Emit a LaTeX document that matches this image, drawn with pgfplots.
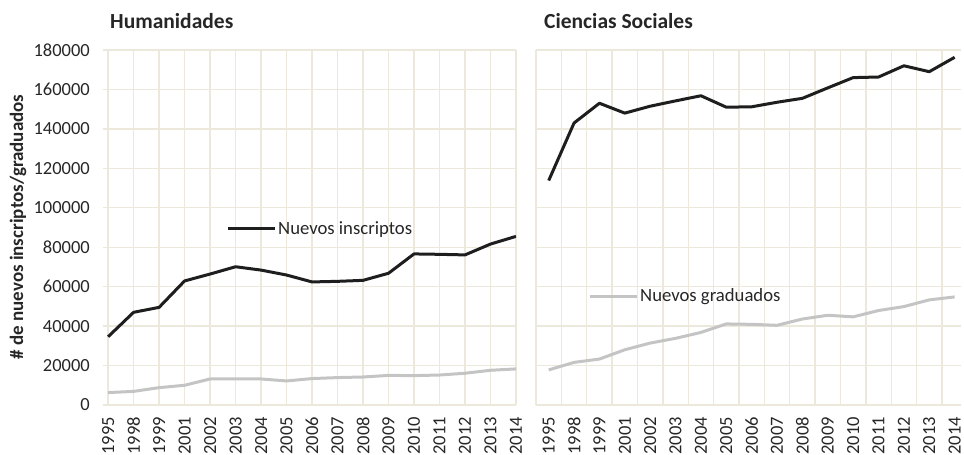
\documentclass[border=0pt]{standalone}
\usepackage{fontspec}
\setmainfont{Carlito}
\usepackage{pgfplots}
\pgfplotsset{compat=1.18}
\definecolor{gridc}{RGB}{236,232,220}
\definecolor{ins}{RGB}{30,30,30}
\definecolor{gra}{RGB}{196,196,196}
\definecolor{txt}{RGB}{38,38,38}
\begin{document}
\begin{tikzpicture}
\path[use as bounding box] (0pt,0pt) rectangle (964pt,455pt);
\pgfplotsset{
 panel/.style={
  scale only axis, height=355pt, ymin=0, ymax=180000,
  ytick={0,20000,40000,60000,80000,100000,120000,140000,160000,180000},
  axis line style={draw=none},
  major tick length=0pt, minor tick length=0pt,
  ymajorgrids,
  grid style={gridc, line width=1.4pt},
  minor grid style={gridc, line width=1.4pt},
  xtick={0,...,16},
  xticklabels={1995,1998,1999,2001,2002,2003,2004,2005,2006,2007,2008,2009,2010,2011,2012,2013,2014},
  xticklabel style={rotate=90, anchor=east, inner sep=0pt, font=\fontsize{18.5}{20}\selectfont, text=txt},
  xticklabel shift=12pt,
  scaled y ticks=false,
  yticklabel style={anchor=east, inner sep=0pt, font=\fontsize{18.5}{20}\selectfont, text=txt,
    /pgf/number format/.cd, fixed, 1000 sep={}, assume math mode=true},
  yticklabel shift=13pt,
  legend style={draw=none, fill=none, inner sep=0pt, font=\fontsize{18.7}{20}\selectfont, text=txt,
    nodes={inner sep=1.5pt}, anchor=west},
  legend image code/.code={\draw[##1] (0pt,0pt) -- (47pt,0pt);},
  every axis plot/.append style={line width=3pt, line join=round, mark=none},
 }}
\begin{axis}[panel, at={(103pt,50pt)}, anchor=south west, width=413pt,
  xmin=-0.2, xmax=16, xmajorgrids,
  legend style={at={(0.299,0.4958)}}]
\addplot[ins] coordinates {(0,34600) (1,47000) (2,49500) (3,62900) (4,66400) (5,70100) (6,68400) (7,65900) (8,62400) (9,62700) (10,63200) (11,66800) (12,76600) (13,76400) (14,76100) (15,81600) (16,85500)};
\addlegendentry{Nuevos inscriptos}
\addplot[gra, forget plot] coordinates {(0,6300) (1,6900) (2,8800) (3,10000) (4,13200) (5,13200) (6,13200) (7,12200) (8,13400) (9,13900) (10,14200) (11,15000) (12,14900) (13,15200) (14,16100) (15,17600) (16,18300)};
\end{axis}
\begin{axis}[panel, at={(536pt,50pt)}, anchor=south west, width=425pt,
  xmin=-0.5, xmax=16.25, yticklabels={},
  minor xtick={-0.5,0.5,...,16.5}, xminorgrids,
  legend style={at={(0.1235,0.307)}}]
\addplot[ins, forget plot] coordinates {(0,113800) (1,143000) (2,153000) (3,148000) (4,151500) (5,154200) (6,156800) (7,151000) (8,151200) (9,153500) (10,155500) (11,160800) (12,166000) (13,166300) (14,172000) (15,169000) (16,176300)};
\addplot[gra] coordinates {(0,17800) (1,21600) (2,23300) (3,28000) (4,31400) (5,33800) (6,36800) (7,41100) (8,40900) (9,40400) (10,43600) (11,45500) (12,44700) (13,47900) (14,49900) (15,53300) (16,54800)};
\addlegendentry{Nuevos graduados}
\end{axis}
\node[anchor=base west, inner sep=0pt, font=\bfseries\fontsize{21.5}{24}\selectfont, text=txt] at (110pt,426pt) {Humanidades};
\node[anchor=base west, inner sep=0pt, font=\bfseries\fontsize{21.5}{24}\selectfont, text=txt] at (544pt,426pt) {Ciencias Sociales};
\node[rotate=90, inner sep=0pt, font=\bfseries\fontsize{19}{22}\selectfont, text=txt] at (18pt,228pt) {\# de nuevos inscriptos/graduados};
\end{tikzpicture}
\end{document}
